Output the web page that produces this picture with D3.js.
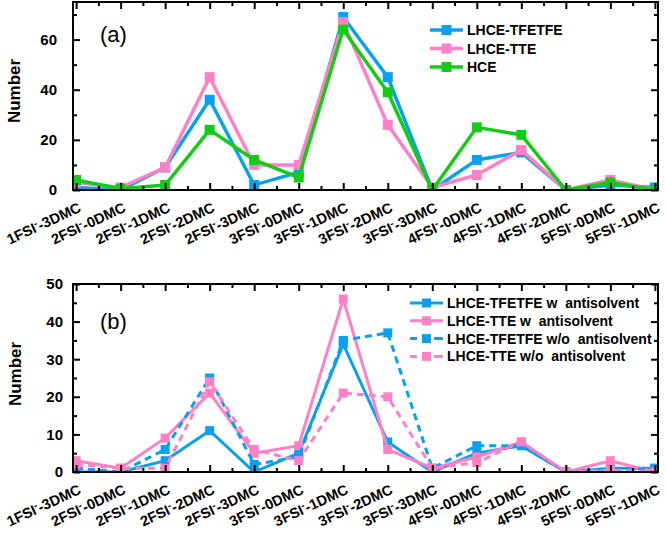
<!DOCTYPE html>
<html>
<head>
<meta charset="utf-8">
<script src="https://cdn.jsdelivr.net/npm/d3@7"></script>
<style>
  html, body { margin: 0; padding: 0; background: #fff; }
  svg { display: block; font-family: "Liberation Sans", Arial, sans-serif; }
  text { white-space: pre; }
</style>
</head>
<body>
<svg id="chart" width="666" height="535"></svg>
<script>
// ---------- data ----------
const categories = ["1FSI⁻-3DMC","2FSI⁻-0DMC","2FSI⁻-1DMC","2FSI⁻-2DMC","2FSI⁻-3DMC","3FSI⁻-0DMC","3FSI⁻-1DMC",
                    "3FSI⁻-2DMC","3FSI⁻-3DMC","4FSI⁻-0DMC","4FSI⁻-1DMC","4FSI⁻-2DMC","5FSI⁻-0DMC","5FSI⁻-1DMC"];

// panel (a)
const seriesA_names = ["LHCE-TFETFE", "LHCE-TTE", "HCE"];
const a_tfetfe = [1, 0, 9, 36, 2, 7, 69, 45, 0, 12, 15, 0, 2, 1];
const a_tte    = [3, 1, 9, 45, 10, 10, 67, 26, 1, 6, 16, 0, 4, 0];
const a_hce    = [4, 0.5, 2, 24, 12, 5, 64, 39, 0, 25, 22, 0, 3, 0];
const a_yTicks = [0, 20, 40, 60];

// panel (b)
const seriesB_names = ["LHCE-TFETFE w  antisolvent", "LHCE-TTE w  antisolvent",
                       "LHCE-TFETFE w/o  antisolvent", "LHCE-TTE w/o  antisolvent"];
const b_tfetfe_w  = [0, 0, 3, 11, 0, 5, 34, 8, 0, 5, 7, 0, 1, 1];
const b_tte_w     = [3, 1, 9, 21, 5, 7, 46, 6, 1, 4, 8, 0, 3, 0];
const b_tfetfe_wo = [1, 0, 6, 25, 2, 4, 35, 37, 1, 7, 7, 0, 0.5, 1];
const b_tte_wo    = [2, 1, 1, 24, 6, 3, 21, 20, 1, 2.5, 8, 0, 0.5, 0];
const b_yTicks = [0, 10, 20, 30, 40, 50];

const BLUE = "#0aa0f0", PINK = "#ff80c4", GREEN = "#14cc14";

// ---------- layout ----------
const svg = d3.select("#chart");
const X0 = 73, X1 = 658;
const x = d3.scaleLinear().domain([0.93, 14.07]).range([X0, X1]);
const majorX = d3.range(1, 15);
const minorX = d3.range(1.5, 14, 1);

function panel(cfg) {
  const g = svg.append("g");
  const y = d3.scaleLinear().domain(cfg.yDomain).range([cfg.bottom, cfg.top]);
  const clipId = "clip" + cfg.id;
  svg.append("clipPath").attr("id", clipId).append("rect")
    .attr("x", X0).attr("y", cfg.top).attr("width", X1 - X0).attr("height", cfg.bottom - cfg.top);

  const data = g.append("g").attr("clip-path", `url(#${clipId})`);
  const line = d3.line().x((d, i) => x(i + 1)).y(d => y(d));
  cfg.series.forEach(s => {
    data.append("path").attr("d", line(s.values))
      .attr("fill", "none").attr("stroke", s.color).attr("stroke-width", cfg.lw)
      .attr("stroke-linejoin", "miter")
      .attr("stroke-dasharray", s.dash ? "7,5" : null);
    data.selectAll(null).data(s.values).enter().append("rect")
      .attr("x", (d, i) => x(i + 1) - cfg.ms / 2).attr("y", d => y(d) - cfg.ms / 2)
      .attr("width", cfg.ms).attr("height", cfg.ms).attr("fill", s.color);
  });

  // frame
  g.append("rect").attr("x", X0).attr("y", cfg.top).attr("width", X1 - X0).attr("height", cfg.bottom - cfg.top)
    .attr("fill", "none").attr("stroke", "#000").attr("stroke-width", 2);

  const fmtNone = () => "";
  g.append("g").attr("transform", `translate(0,${cfg.bottom})`)
    .call(d3.axisBottom(x).tickValues(majorX).tickSize(-7).tickFormat(fmtNone));
  g.append("g").attr("transform", `translate(0,${cfg.bottom})`)
    .call(d3.axisBottom(x).tickValues(minorX).tickSize(-4).tickFormat(fmtNone));
  g.append("g").attr("transform", `translate(0,${cfg.top})`)
    .call(d3.axisTop(x).tickValues(majorX).tickSize(-7).tickFormat(fmtNone));
  g.append("g").attr("transform", `translate(0,${cfg.top})`)
    .call(d3.axisTop(x).tickValues(minorX).tickSize(-4).tickFormat(fmtNone));
  const minorY = cfg.yMinor;
  g.append("g").attr("transform", `translate(${X0},0)`)
    .call(d3.axisLeft(y).tickValues(cfg.yTicks).tickSize(-7).tickPadding(cfg.yPad).tickFormat(d3.format("d")));
  g.append("g").attr("transform", `translate(${X0},0)`)
    .call(d3.axisLeft(y).tickValues(minorY).tickSize(-4).tickFormat(fmtNone));
  g.append("g").attr("transform", `translate(${X1},0)`)
    .call(d3.axisRight(y).tickValues(cfg.yTicks).tickSize(-7).tickFormat(fmtNone));
  g.append("g").attr("transform", `translate(${X1},0)`)
    .call(d3.axisRight(y).tickValues(minorY).tickSize(-4).tickFormat(fmtNone));

  g.selectAll(".domain").remove();
  g.selectAll(".tick line").attr("stroke", "#000").attr("stroke-width", 2);
  g.selectAll(".tick text").attr("font-size", 15).attr("font-weight", "bold").attr("fill", "#000")
    .attr("font-family", "Liberation Sans, Arial, sans-serif");

  // x labels
  categories.forEach((c, i) => {
    const parts = c.split("⁻");
    const t = g.append("text")
      .attr("transform", `translate(${x(i + 1) + 6},${cfg.bottom + 21}) rotate(-25)`)
      .attr("text-anchor", "end").attr("font-size", 14.5).attr("font-weight", "bold");
    t.append("tspan").text(parts[0]);
    t.append("tspan").attr("font-size", 10).attr("dy", -5).text("-");
    t.append("tspan").attr("dy", 5).text(parts[1]);
  });

  // y title
  g.append("text").attr("transform", `translate(${cfg.titleX},${cfg.titleY}) rotate(-90)`)
    .attr("text-anchor", "middle").attr("font-size", 17).attr("font-weight", "bold").text("Number");

  // panel label
  g.append("text").attr("x", 100).attr("y", cfg.labelY).attr("font-size", 22).text(cfg.label);

  // legend
  cfg.series.forEach((s, k) => {
    const ry = cfg.legY + k * cfg.legDy;
    g.append("line").attr("x1", cfg.legX).attr("x2", cfg.legX + 33).attr("y1", ry).attr("y2", ry)
      .attr("stroke", s.color).attr("stroke-width", cfg.lw).attr("stroke-dasharray", s.dash ? "7,5" : null);
    if (s.dash) {
      g.append("rect").attr("x", cfg.legX + 30).attr("y", ry - cfg.lw / 2)
        .attr("width", 3).attr("height", cfg.lw).attr("fill", s.color);
    }
    g.append("rect").attr("x", cfg.legX + 16.5 - cfg.ms / 2).attr("y", ry - cfg.ms / 2)
      .attr("width", cfg.ms).attr("height", cfg.ms).attr("fill", s.color);
    g.append("text").attr("x", cfg.legX + 37).attr("y", ry + 5)
      .attr("font-size", 14).attr("font-weight", "bold").text(s.name);
  });
}

panel({
  id: "a", top: 2, bottom: 190, yDomain: [0, 75], yTicks: a_yTicks, yMinor: [10, 30, 50, 70], yPad: 16,
  lw: 3.5, ms: 10, titleX: 20, titleY: 91, label: "(a)", labelY: 42,
  legX: 430, legY: 30, legDy: 18.5,
  series: [
    { name: seriesA_names[0], values: a_tfetfe, color: BLUE },
    { name: seriesA_names[1], values: a_tte, color: PINK },
    { name: seriesA_names[2], values: a_hce, color: GREEN }
  ]
});

panel({
  id: "b", top: 284, bottom: 472, yDomain: [0, 50], yTicks: b_yTicks, yMinor: [5, 15, 25, 35, 45], yPad: 10,
  lw: 3, ms: 9, titleX: 21, titleY: 374, label: "(b)", labelY: 329,
  legX: 410, legY: 303, legDy: 17.8,
  series: [
    { name: seriesB_names[0], values: b_tfetfe_w, color: BLUE },
    { name: seriesB_names[1], values: b_tte_w, color: PINK },
    { name: seriesB_names[2], values: b_tfetfe_wo, color: BLUE, dash: true },
    { name: seriesB_names[3], values: b_tte_wo, color: PINK, dash: true }
  ]
});
</script>
</body>
</html>
